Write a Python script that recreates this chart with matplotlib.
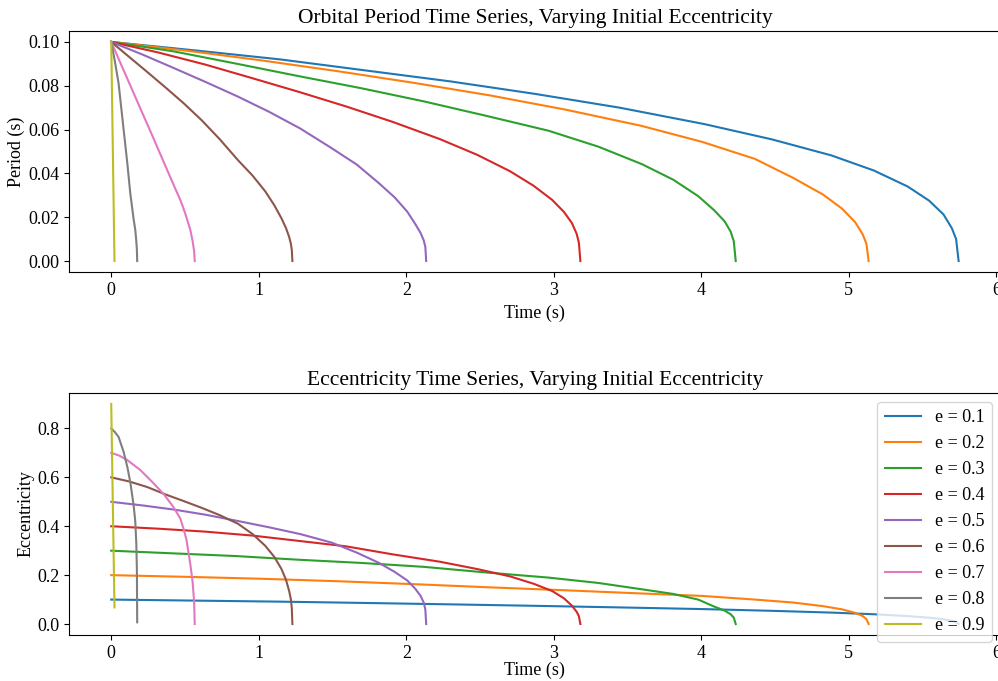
import numpy as np
import matplotlib
matplotlib.use("Agg")
import matplotlib.pyplot as plt

# initial eccentricities
ecc0 = [0.1, 0.2, 0.3, 0.4, 0.5, 0.6, 0.7, 0.8, 0.9]

# time samples (s)
t_01 = [0, 0.574, 1.149, 1.723, 2.298, 2.872, 3.446, 4.021, 4.480, 4.882, 5.170, 5.399, 5.543, 5.641, 5.698, 5.727, 5.744]
t_02 = [0, 0.513, 1.027, 1.540, 2.054, 2.567, 3.080, 3.594, 4.005, 4.364, 4.621, 4.826, 4.954, 5.042, 5.093, 5.119, 5.134]
t_03 = [0, 0.423, 0.847, 1.270, 1.693, 2.117, 2.540, 2.963, 3.302, 3.598, 3.810, 3.979, 4.085, 4.157, 4.199, 4.220, 4.233]
t_04 = [0, 0.318, 0.636, 0.954, 1.272, 1.590, 1.908, 2.226, 2.480, 2.703, 2.862, 2.989, 3.069, 3.123, 3.155, 3.170, 3.180]
t_05 = [0, 0.2135, 0.427, 0.6405, 0.854, 1.0675, 1.281, 1.4945, 1.665, 1.815, 1.922, 2.007, 2.060, 2.097, 2.118, 2.129, 2.135]
t_06 = [0, 0.1228, 0.2456, 0.3684, 0.4912, 0.614, 0.7368, 0.8596, 0.958, 1.044, 1.105, 1.154, 1.185, 1.206, 1.218, 1.224, 1.228]
t_07 = [0, 0.05, 0.106, 0.197, 0.28, 0.355, 0.42, 0.468, 0.49, 0.51, 0.536, 0.552, 0.562, 0.566]
t_08 = [0, 0.025, 0.05, 0.084, 0.11, 0.129, 0.152, 0.163, 0.170, 0.174, 0.176]
t_09 = [0, 0.022]

# orbital period (s)
p_01 = [0.100, 0.0961, 0.0920, 0.0870, 0.0820, 0.0763, 0.0700, 0.0625, 0.0555, 0.0482, 0.0413, 0.0340, 0.0276, 0.0213, 0.0150, 0.0100, 0.0]
p_02 = [0.100, 0.0960, 0.0915, 0.0866, 0.0813, 0.0756, 0.0691, 0.0617, 0.0544, 0.0466, 0.0380, 0.0303, 0.0239, 0.0178, 0.0123, 0.0079, 0.0]
p_03 = [0.100, 0.0957, 0.0901, 0.0844, 0.0789, 0.0729, 0.0663, 0.0595, 0.0522, 0.0442, 0.0371, 0.0296, 0.0233, 0.0182, 0.0134, 0.0090, 0.0]
p_04 = [0.100, 0.0952, 0.0897, 0.0835, 0.0772, 0.0706, 0.0635, 0.0557, 0.0485, 0.0410, 0.0344, 0.0279, 0.0224, 0.0173, 0.0124, 0.0083, 0.0]
p_05 = [0.100, 0.0942, 0.0880, 0.0817, 0.0752, 0.0682, 0.0605, 0.0515, 0.0440, 0.0355, 0.0290, 0.0225, 0.0170, 0.0128, 0.0095, 0.0065, 0.0]
p_06 = [0.100, 0.0931, 0.0862, 0.0792, 0.0720, 0.0642, 0.0555, 0.0460, 0.0390, 0.0318, 0.0255, 0.0195, 0.0150, 0.0110, 0.0078, 0.0050, 0.0]
p_07 = [0.100, 0.0923, 0.0837, 0.0697, 0.0570, 0.0453, 0.0352, 0.0279, 0.0240, 0.0200, 0.0142, 0.0090, 0.0045, 0.0]
p_08 = [0.100, 0.0910, 0.0810, 0.0600, 0.0440, 0.0310, 0.0190, 0.0142, 0.0090, 0.0050, 0.0]
p_09 = [0.100, 0.0]

# eccentricity
e_01 = [0.100, 0.0958, 0.0915, 0.0862, 0.0805, 0.0745, 0.0680, 0.0610, 0.0540, 0.0468, 0.0400, 0.0325, 0.0260, 0.0195, 0.0135, 0.0085, 0.0]
e_02 = [0.200, 0.193, 0.185, 0.175, 0.163, 0.150, 0.138, 0.125, 0.115, 0.100, 0.088, 0.073, 0.060, 0.046, 0.033, 0.020, 0.0]
e_03 = [0.300, 0.289, 0.278, 0.263, 0.250, 0.234, 0.211, 0.190, 0.168, 0.142, 0.123, 0.100, 0.072, 0.055, 0.040, 0.026, 0.0]
e_04 = [0.400, 0.390, 0.378, 0.362, 0.340, 0.318, 0.285, 0.255, 0.225, 0.195, 0.165, 0.135, 0.105, 0.075, 0.050, 0.032, 0.0]
e_05 = [0.500, 0.485, 0.468, 0.447, 0.422, 0.396, 0.368, 0.333, 0.292, 0.250, 0.213, 0.178, 0.145, 0.115, 0.088, 0.060, 0.0]
e_06 = [0.600, 0.583, 0.560, 0.530, 0.503, 0.475, 0.445, 0.410, 0.368, 0.320, 0.275, 0.225, 0.180, 0.135, 0.100, 0.065, 0.0]
e_07 = [0.700, 0.690, 0.672, 0.630, 0.580, 0.532, 0.480, 0.432, 0.390, 0.345, 0.245, 0.170, 0.090, 0.0]
e_08 = [0.800, 0.785, 0.765, 0.704, 0.640, 0.581, 0.485, 0.420, 0.330, 0.220, 0.007]
e_09 = [0.900, 0.068]

times = [t_01, t_02, t_03, t_04, t_05, t_06, t_07, t_08, t_09]
periods = [p_01, p_02, p_03, p_04, p_05, p_06, p_07, p_08, p_09]
eccs = [e_01, e_02, e_03, e_04, e_05, e_06, e_07, e_08, e_09]

plt.rcParams['font.family'] = ['Liberation Serif', 'DejaVu Serif']
plt.rcParams['font.size'] = 13

fig = plt.figure(figsize=(9.98, 6.81), dpi=100)
ax1 = fig.add_axes([0.069, 0.6006, 0.934, 0.3539])
ax2 = fig.add_axes([0.069, 0.0675, 0.934, 0.3554])

for e0, t, p, e in zip(ecc0, times, periods, eccs):
    ax1.plot(t, p, lw=1.5)
    ax2.plot(t, e, lw=1.5, label=f"e = {e0}")

ax1.set_title("Orbital Period Time Series, Varying Initial Eccentricity", fontsize=15.5)
ax1.set_xlabel("Time (s)")
ax1.set_ylabel("Period (s)", labelpad=2)
ax1.set_xticks(range(7))
ax1.set_yticks(np.arange(0, 0.101, 0.02))

ax2.set_title("Eccentricity Time Series, Varying Initial Eccentricity", fontsize=15.5)
ax2.set_xlabel("Time (s)", labelpad=0)
ax2.set_ylabel("Eccentricity", labelpad=1.5)
ax2.set_xticks(range(7))
ax2.legend(loc="upper right", fontsize=13)

fig.savefig("out.png", dpi=100)
